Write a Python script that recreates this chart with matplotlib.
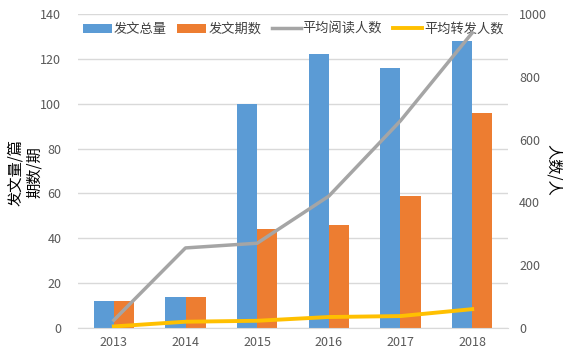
import matplotlib
matplotlib.use("Agg")
import matplotlib.pyplot as plt
import numpy as np

plt.rcParams['font.family'] = ['Noto Sans CJK SC', 'DejaVu Sans']

years = ['2013', '2014', '2015', '2016', '2017', '2018']
total_posts = [12, 14, 100, 122, 116, 128]
issues = [12, 14, 44, 46, 59, 96]
avg_reads = [25, 255, 270, 420, 660, 940]
avg_shares = [5, 20, 23, 35, 38, 60]

fig = plt.figure(figsize=(5.69, 3.58), dpi=100)
ax = fig.add_axes([78 / 569, 30 / 358, 430 / 569, 314 / 358])
ax2 = ax.twinx()

x = np.arange(len(years))
w = 0.28
b1 = ax.bar(x - w / 2, total_posts, w, color='#5B9BD5', label='发文总量', zorder=2)
b2 = ax.bar(x + w / 2, issues, w, color='#ED7D31', label='发文期数', zorder=2)
l1, = ax2.plot(x, avg_reads, color='#A5A5A5', lw=2.5, label='平均阅读人数')
l2, = ax2.plot(x, avg_shares, color='#FFC000', lw=2.8, label='平均转发人数')

ax.set_xlim(-0.5, 5.5)
ax.set_ylim(0, 140)
ax.set_yticks(range(0, 141, 20))
ax2.set_ylim(0, 1000)
ax2.set_yticks(range(0, 1001, 200))
ax.set_xticks(x)
ax.set_xticklabels(years)

ax.grid(axis='y', color='#D9D9D9', lw=1, zorder=0)
for a in (ax, ax2):
    for s in a.spines.values():
        s.set_visible(False)
    a.tick_params(length=0, colors='#595959', labelsize=9)
ax.spines['bottom'].set_visible(True)
ax.spines['bottom'].set_color('#D9D9D9')
ax.tick_params(axis='y', pad=12)
ax2.tick_params(axis='y', pad=8)
ax.tick_params(axis='x', pad=6)

# axis titles placed by hand
fig.text(16 / 569, 1 - 172 / 358, '发文量/篇', rotation=90, fontsize=11,
         ha='center', va='center')
fig.text(34 / 569, 1 - 172 / 358, '期数/期', rotation=90, fontsize=11,
         ha='center', va='center')
fig.text(553 / 569, 1 - 170 / 358, '人数/人', rotation=-90, fontsize=11,
         ha='center', va='center')

ax.legend([b1, b2, l1, l2], ['发文总量', '发文期数', '平均阅读人数', '平均转发人数'],
          loc='upper center', bbox_to_anchor=(0.5, 1.01), ncol=4, frameon=False,
          fontsize=9.5, handlelength=2.2, columnspacing=0.8, handletextpad=0.15,
          labelcolor='#404040')

fig.savefig('out.png', dpi=100)
